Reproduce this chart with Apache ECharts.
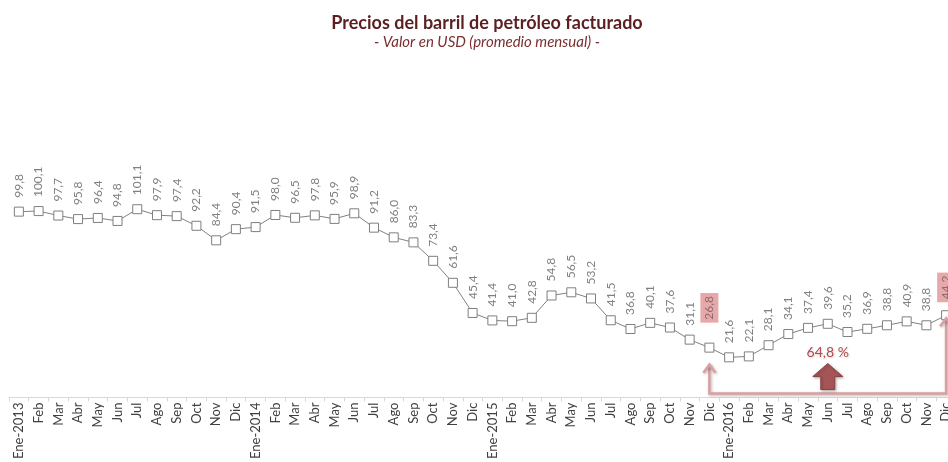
<!DOCTYPE html>
<html>
<head>
<meta charset="utf-8">
<script src="https://cdn.jsdelivr.net/npm/echarts@6/dist/echarts.min.js"></script>
<style>
  html, body { margin: 0; padding: 0; background: #fff; overflow: hidden; }
  #chart { width: 956px; height: 462px; }
</style>
</head>
<body>
<div id="chart"></div>
<script>
// meses Ene-2013 .. Dic-2016
const meses = [
  'Ene-2013', 'Feb', 'Mar', 'Abr', 'May', 'Jun', 'Jul', 'Ago', 'Sep', 'Oct', 'Nov', 'Dic',
  'Ene-2014', 'Feb', 'Mar', 'Abr', 'May', 'Jun', 'Jul', 'Ago', 'Sep', 'Oct', 'Nov', 'Dic',
  'Ene-2015', 'Feb', 'Mar', 'Abr', 'May', 'Jun', 'Jul', 'Ago', 'Sep', 'Oct', 'Nov', 'Dic',
  'Ene-2016', 'Feb', 'Mar', 'Abr', 'May', 'Jun', 'Jul', 'Ago', 'Sep', 'Oct', 'Nov', 'Dic'
];

// precio promedio mensual (USD)
const precios = [
  99.8, 100.1, 97.7, 95.8, 96.4, 94.8, 101.1, 97.9, 97.4, 92.2, 84.4, 90.4,
  91.5, 98.0, 96.5, 97.8, 95.9, 98.9, 91.2, 86.0, 83.3, 73.4, 61.6, 45.4,
  41.4, 41.0, 42.8, 54.8, 56.5, 53.2, 41.5, 36.8, 40.1, 37.6, 31.1, 26.8,
  21.6, 22.1, 28.1, 34.1, 37.4, 39.6, 35.2, 36.9, 38.8, 40.9, 38.8, 44.2
];

// meses resaltados (Dic-2015 y Dic-2016) y variación entre ellos
const destacados = [35, 47];
const variacion = '64,8 %';
const mesVariacion = 41; // Jun-2016, donde va la flecha

const fuente = 'Lato, "Open Sans", sans-serif';
const rosa = '#d9a0a0';
const sombra = { shadowBlur: 3, shadowColor: 'rgba(0,0,0,0.3)', shadowOffsetX: 1, shadowOffsetY: 1 };

const chart = echarts.init(document.getElementById('chart'));

const serieData = precios.map((v, i) => {
  if (!destacados.includes(i)) return v;
  return {
    value: v,
    label: {
      backgroundColor: '#e6a8a8',
      color: '#8c6a6a',
      padding: [3, 3, 3, 3],
      distance: i === destacados[0] ? 20 : 8
    }
  };
});

const option = {
  animation: false,
  title: {
    text: 'Precios del barril de petróleo facturado',
    subtext: '- Valor en USD (promedio mensual) -',
    left: 482,
    textAlign: 'center',
    top: 9,
    itemGap: 3,
    textStyle: { fontFamily: fuente, fontSize: 18, fontWeight: 'bold', color: '#5b1f22' },
    subtextStyle: { fontFamily: fuente, fontSize: 15, fontStyle: 'italic', color: '#7a2e30' }
  },
  // el área de trazado sobresale un poco por la derecha, como en el original
  grid: { left: 9, right: 0, top: 174, bottom: 61 },
  xAxis: {
    type: 'category',
    data: meses,
    boundaryGap: true,
    axisLine: { lineStyle: { color: '#d9d9d9', width: 1 } },
    axisTick: { show: true, length: 4, lineStyle: { color: '#d9d9d9' } },
    axisLabel: {
      interval: 0,
      rotate: 90,
      margin: 5,
      fontFamily: fuente,
      fontSize: 13,
      color: '#404040'
    }
  },
  yAxis: {
    type: 'value',
    min: 0,
    max: 120,
    show: false,
    splitLine: { show: false }
  },
  series: [
    {
      type: 'line',
      data: serieData,
      symbol: 'rect',
      symbolSize: 9,
      lineStyle: { color: '#808080', width: 1 },
      itemStyle: { color: '#ffffff', borderColor: '#7f7f7f', borderWidth: 1 },
      label: {
        show: true,
        position: 'top',
        distance: 8,
        rotate: 90,
        align: 'left',
        verticalAlign: 'middle',
        fontFamily: fuente,
        fontSize: 12,
        color: '#808080',
        backgroundColor: '#ffffff',
        padding: [1, 1, 1, 1],
        formatter: (p) => p.value.toFixed(1).replace('.', ',')
      },
      z: 3
    }
  ]
};

chart.setOption(option);

// anotación: corchete entre los meses resaltados y flecha de variación
const px = (i, v) => chart.convertToPixel({ seriesIndex: 0 }, [i, v]);
const ejeY = px(0, 0)[1];
const [xa, ya] = px(destacados[0], precios[destacados[0]]);
const [xb, yb] = px(destacados[1], precios[destacados[1]]);
const yBase = ejeY - 4;
const tipA = ya + 17;
const tipB = yb + 3;
const xm = px(mesVariacion, 0)[0];

const chevron = (x, y) => ({
  type: 'polyline',
  shape: { points: [[x - 6, y + 8], [x, y], [x + 6, y + 8]] },
  style: Object.assign({ stroke: rosa, lineWidth: 2.5, fill: null }, sombra),
  z: 10
});

chart.setOption({
  graphic: [
    {
      type: 'polyline',
      shape: { points: [[xa, tipA], [xa, yBase], [xb, yBase], [xb, tipB]] },
      style: Object.assign({ stroke: rosa, lineWidth: 2.5, fill: null }, sombra),
      z: 10
    },
    chevron(xa, tipA),
    chevron(xb, tipB),
    {
      type: 'polygon',
      shape: {
        points: [
          [xm, yBase - 30], [xm + 15, yBase - 17], [xm + 7, yBase - 17],
          [xm + 7, yBase - 4], [xm - 7, yBase - 4], [xm - 7, yBase - 17], [xm - 15, yBase - 17]
        ]
      },
      style: Object.assign({ fill: '#a65556', stroke: '#8a4344', lineWidth: 1 }, sombra),
      z: 10
    },
    {
      type: 'text',
      x: xm,
      y: yBase - 41,
      style: {
        text: variacion,
        fontFamily: fuente,
        fontSize: 14,
        fill: '#b5484b',
        align: 'center',
        verticalAlign: 'middle',
        textShadowBlur: 2,
        textShadowColor: 'rgba(0,0,0,0.2)',
        textShadowOffsetX: 1,
        textShadowOffsetY: 1
      },
      z: 10
    }
  ]
});
</script>
</body>
</html>
